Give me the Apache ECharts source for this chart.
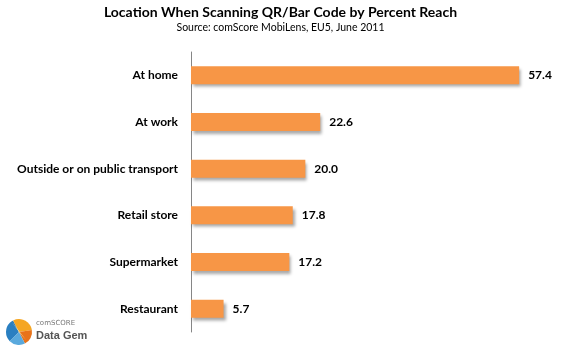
<!DOCTYPE html>
<html>
<head>
<meta charset="utf-8">
<script src="https://cdn.jsdelivr.net/npm/echarts@6/dist/echarts.min.js"></script>
<style>html,body{margin:0;padding:0;background:#fff}#c{width:561px;height:351px}</style>
</head>
<body>
<div id="c"></div>
<script>
var categories = ["At home", "At work", "Outside or on public transport", "Retail store", "Supermarket", "Restaurant"];
var values = [57.4, 22.6, 20.0, 17.8, 17.2, 5.7];
var titleText = "Location When Scanning QR/Bar Code by Percent Reach";
var subtitleText = "Source: comScore MobiLens, EU5, June 2011";

var FONT = "Lato";
var chart = echarts.init(document.getElementById('c'));
chart.setOption({
  animation: false,
  backgroundColor: '#ffffff',
  title: {
    text: titleText,
    subtext: subtitleText,
    left: 'center',
    top: 0,
    itemGap: 3,
    textStyle: {fontFamily: FONT, fontWeight: 'bold', fontSize: 14, color: '#000'},
    subtextStyle: {fontFamily: FONT, fontSize: 10.5, color: '#000'}
  },
  grid: {left: 191, right: 27, top: 52, bottom: 19, containLabel: false},
  xAxis: {
    type: 'value', min: 0, max: 60, show: false
  },
  yAxis: {
    type: 'category', data: categories, inverse: true,
    axisLine: {show: true, lineStyle: {color: '#868686', width: 1}},
    axisTick: {show: false},
    axisLabel: {fontFamily: FONT, fontWeight: 'bold', fontSize: 12, color: '#000', margin: 13}
  },
  series: [{
    type: 'bar', data: values, barWidth: 18,
    itemStyle: {color: '#F79646', shadowColor: 'rgba(0,0,0,0.35)', shadowBlur: 3, shadowOffsetX: 2, shadowOffsetY: 3},
    label: {show: true, position: 'right', distance: 9, fontFamily: FONT, fontWeight: 'bold', fontSize: 12, color: '#000',
      formatter: function(p){ return p.value.toFixed(1); }}
  }],
  graphic: [
    {type: 'sector', shape: {cx: 19, cy: 332, r: 13, startAngle: Math.PI*0.75, endAngle: Math.PI*1.35}, style: {fill: '#2a7fc1'}},
    {type: 'sector', shape: {cx: 19, cy: 332, r: 13, startAngle: Math.PI*1.35, endAngle: Math.PI*1.95}, style: {fill: '#f5a623'}},
    {type: 'sector', shape: {cx: 19, cy: 332, r: 13, startAngle: Math.PI*1.95, endAngle: Math.PI*2.35}, style: {fill: '#e8731a'}},
    {type: 'sector', shape: {cx: 19, cy: 332, r: 13, startAngle: Math.PI*0.35, endAngle: Math.PI*0.75}, style: {fill: '#5aa9dd'}},
    {type: 'polygon', shape: {points: [[19,332],[12,322],[26,340]]}, style: {fill: '#f3e3b0'}},
    {type: 'text', left: 36, top: 320, style: {text: 'comSCORE', fontFamily: 'DejaVu Sans', fontSize: 7, fill: '#777'}},
    {type: 'text', left: 36, top: 330, style: {text: 'Data Gem', fontFamily: 'Liberation Sans', fontSize: 11, fontWeight: 'bold', fill: '#555'}}
  ]
});
</script>
</body>
</html>
